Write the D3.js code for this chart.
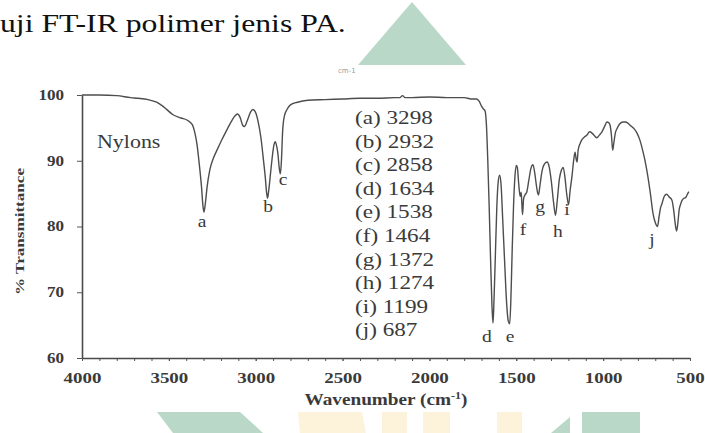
<!DOCTYPE html>
<html>
<head>
<meta charset="utf-8">
<script src="https://cdn.jsdelivr.net/npm/d3@7"></script>
<style>
  html, body { margin: 0; padding: 0; background: #fff; }
  svg { display: block; }
</style>
</head>
<body>
<svg id="chart" width="705" height="433"></svg>
<script>
// FT-IR spectrum of a nylon (polyamide) sample
const wavenumbers = [
  4000, 3900, 3800, 3720, 3680, 3620, 3570, 3530, 3476, 3430, 3396, 3365, 3350, 3338, 3325,
  3312, 3304, 3298, 3290, 3280, 3265, 3245, 3225, 3195, 3166, 3140, 3120, 3105, 3090, 3075,
  3065, 3050, 3030, 3016, 3000, 2985, 2970, 2955, 2945, 2938, 2932, 2925, 2915, 2905, 2895,
  2888, 2880, 2872, 2865, 2858, 2852, 2845, 2835, 2820, 2800, 2760, 2700, 2600, 2500, 2400,
  2300, 2200, 2170, 2155, 2140, 2100, 2000, 1900, 1800, 1760, 1730, 1715, 1700, 1690, 1680,
  1672, 1664, 1656, 1648, 1640, 1634, 1628, 1620, 1612, 1604, 1596, 1588, 1578, 1566, 1556,
  1546, 1538, 1531, 1524, 1516, 1508, 1500, 1494, 1486, 1478, 1472, 1468, 1464, 1458, 1450,
  1440, 1428, 1416, 1404, 1394, 1384, 1376, 1372, 1364, 1352, 1340, 1323, 1310, 1298, 1286,
  1274, 1264, 1252, 1240, 1230, 1220, 1210, 1199, 1190, 1180, 1170, 1162, 1155, 1150, 1144,
  1133, 1122, 1108, 1093, 1078, 1064, 1050, 1036, 1022, 1007, 992, 978, 968, 960, 952,
  945, 938, 930, 920, 905, 886, 870, 857, 840, 820, 805, 788, 770, 755, 742,
  728, 713, 700, 687, 678, 670, 661, 648, 635, 620, 604, 594, 585, 577, 570,
  562, 555, 545, 535, 525, 515, 507
];
const transmittance = [
  100.0, 100.0, 99.9, 99.6, 99.5, 99.3, 98.9, 98.2, 97.0, 96.5, 96.2, 95.5, 94.2, 92.5, 89.5,
  86.0, 83.2, 82.2, 83.5, 86.0, 88.5, 90.3, 91.5, 93.2, 94.7, 96.0, 96.8, 97.1, 96.6, 95.4,
  95.2, 96.0, 97.4, 97.8, 97.3, 95.8, 93.5, 90.0, 87.5, 85.3, 84.3, 85.5, 88.0, 90.5, 92.4,
  92.9, 92.3, 91.0, 89.0, 88.0, 90.0, 94.5, 96.8, 97.8, 98.5, 98.9, 99.2, 99.3, 99.4, 99.5,
  99.5, 99.6, 99.6, 99.9, 99.6, 99.6, 99.7, 99.6, 99.6, 99.4, 99.4, 99.1, 98.3, 97.9, 97.6,
  95.5, 90.0, 83.0, 75.0, 68.0, 65.3, 69.0, 76.0, 83.0, 86.8, 87.8, 86.5, 81.0, 74.0, 68.5,
  65.6, 65.2, 69.0, 76.0, 83.0, 87.5, 89.3, 89.0, 86.5, 84.6, 85.2, 83.5, 81.8, 84.2, 84.8,
  85.2, 87.0, 88.8, 89.4, 88.2, 86.2, 85.0, 84.8, 86.2, 88.4, 89.4, 89.8, 89.0, 86.8, 83.8,
  81.7, 84.0, 87.2, 88.6, 89.0, 87.5, 85.0, 83.3, 85.5, 87.5, 90.0, 91.3, 90.2, 89.8, 91.6,
  92.6, 93.2, 93.6, 93.9, 94.4, 94.2, 93.8, 93.5, 93.9, 94.4, 95.2, 95.9, 95.8, 95.4, 93.8,
  91.6, 92.8, 94.2, 94.9, 95.6, 95.9, 95.9, 95.7, 95.3, 94.8, 94.2, 93.1, 91.3, 89.5, 87.5,
  85.0, 82.0, 80.6, 80.0, 81.5, 82.8, 83.5, 84.6, 84.9, 84.5, 84.0, 82.5, 80.4, 79.3, 80.5,
  82.6, 83.3, 84.0, 84.3, 84.4, 84.9, 85.3
];

// Assigned absorption bands
const peakLetters = ["a", "b", "c", "d", "e", "f", "g", "h", "i", "j"];
const peakWavenumbers = [3298, 2932, 2858, 1634, 1538, 1464, 1372, 1274, 1199, 687];
// where each band letter sits, in data units (wavenumber, %T)
const letterWavenumbers = [3309, 2929, 2843, 1669, 1536, 1461, 1363, 1260, 1208, 719];
const letterTransmittance = [80.7, 83.0, 87.1, 63.2, 63.2, 79.5, 83.0, 79.2, 82.5, 77.9];

// Axis ticks
const xTickLabels = [4000, 3500, 3000, 2500, 2000, 1500, 1000, 500];
const xMinorTicks = d3.range(4000, 499, -100);
const yTickLabels = [60, 70, 80, 90, 100];

const SERIF = "Liberation Serif, Times New Roman, serif";
const SX = 1.22; // horizontal text stretch of the figure
const INK = "#3a3a3a";

const svg = d3.select("#chart");

// --- page background decorations ---------------------------------------
const deco = svg.append("g");
const green = "#b9d8c8", cream = "#fcf3da";
deco.append("polygon").attr("points", "352,72 412,2 472,72").attr("fill", green);
deco.append("polygon").attr("points", "157,412 240,412 263,433 173,433").attr("fill", green);
deco.append("polygon").attr("points", "298,412 362,412 366,433 300,433").attr("fill", cream);
deco.append("rect").attr("x", 382).attr("y", 412).attr("width", 25).attr("height", 21).attr("fill", cream);
deco.append("rect").attr("x", 423).attr("y", 412).attr("width", 27).attr("height", 21).attr("fill", cream);
deco.append("rect").attr("x", 497).attr("y", 412).attr("width", 25).attr("height", 21).attr("fill", cream);
deco.append("polygon").attr("points", "570,417 570,433 551,433").attr("fill", green);
deco.append("rect").attr("x", 582).attr("y", 412).attr("width", 58).attr("height", 21).attr("fill", green);

// page text above the figure
svg.append("text")
  .attr("transform", `translate(0,32) scale(${SX},1)`)
  .style("font-family", SERIF).style("font-size", "26px").attr("fill", "#111")
  .text("uji FT-IR polimer jenis PA.");

// figure panel
svg.append("rect").attr("x", 0).attr("y", 65).attr("width", 705).attr("height", 346).attr("fill", "#fff");

svg.append("text")
  .attr("x", 338).attr("y", 73)
  .style("font-family", "DejaVu Sans, sans-serif").style("font-size", "7px").attr("fill", "#9a9a9a")
  .text("cm-1");

// --- scales --------------------------------------------------------------
const x = d3.scaleLinear().domain([4000, 500]).range([82, 690]);
const y = d3.scaleLinear().domain([60, 100]).range([358, 95]);

// --- axes ----------------------------------------------------------------
const xMinor = svg.append("g")
  .attr("transform", `translate(0,${y(60)})`)
  .call(d3.axisBottom(x).tickValues(xMinorTicks).tickSize(3).tickFormat(""));
xMinor.select(".domain").remove();
xMinor.selectAll("line").attr("stroke", "#555").attr("stroke-width", 1);

const xAxis = svg.append("g")
  .attr("transform", `translate(0,${y(60)})`)
  .call(d3.axisBottom(x).tickValues(xTickLabels).tickSize(3).tickSizeOuter(0).tickPadding(11).tickFormat(d3.format("d")));
xAxis.select(".domain").attr("stroke", "#4a4a4a").attr("stroke-width", 1.6);
xAxis.selectAll("line").attr("stroke", "#555");
xAxis.selectAll("text")
  .style("font-family", SERIF).style("font-size", "15.5px").style("font-weight", "bold").attr("fill", INK)
  .attr("transform", `scale(${SX},1)`);

const yAxis = svg.append("g")
  .attr("transform", `translate(${x(4000)},0)`)
  .call(d3.axisLeft(y).tickValues(yTickLabels).tickSize(5).tickSizeOuter(0).tickFormat(d3.format("d")));
yAxis.select(".domain").attr("stroke", "#4a4a4a").attr("stroke-width", 1.6);
yAxis.selectAll("line").attr("stroke", "#555");
yAxis.selectAll("text")
  .style("font-family", SERIF).style("font-size", "14px").style("font-weight", "bold").attr("fill", INK)
  .attr("x", -18 / SX)
  .attr("transform", `scale(${SX},1)`);

// axis titles
const xTitle = svg.append("text")
  .attr("x", (x(4000) + x(500)) / 2).attr("y", 405)
  .attr("text-anchor", "middle")
  .style("font-family", SERIF).style("font-size", "16px").style("font-weight", "bold").attr("fill", INK)
  .attr("textLength", 163).attr("lengthAdjust", "spacingAndGlyphs");
xTitle.append("tspan").text("Wavenumber (cm");
xTitle.append("tspan").style("font-size", "10px").attr("dy", -6).text("-1");
xTitle.append("tspan").attr("dy", 6).text(")");

svg.append("text")
  .attr("transform", `translate(24,${(y(60) + y(100)) / 2 + 5}) rotate(-90)`)
  .attr("text-anchor", "middle")
  .style("font-family", SERIF).style("font-size", "13px").style("font-weight", "bold").attr("fill", INK)
  .attr("textLength", 127).attr("lengthAdjust", "spacingAndGlyphs")
  .text("% Transmittance");

// --- spectrum ------------------------------------------------------------
const spectrum = wavenumbers.map((w, i) => ({ w, t: transmittance[i] }));
svg.append("path")
  .datum(spectrum)
  .attr("fill", "none")
  .attr("stroke", "#4d4d4d")
  .attr("stroke-width", 1.4)
  .attr("stroke-linejoin", "round")
  .attr("d", d3.line().x(d => x(d.w)).y(d => y(d.t)).curve(d3.curveMonotoneX));

// sample name
svg.append("text")
  .attr("transform", `translate(97,148) scale(${SX},1)`)
  .style("font-family", SERIF).style("font-size", "18px").attr("fill", INK)
  .text("Nylons");

// band letters under the minima
svg.append("g").selectAll("text")
  .data(peakLetters)
  .join("text")
  .attr("transform", (d, i) => `translate(${x(letterWavenumbers[i])},${y(letterTransmittance[i])}) scale(${SX},1)`)
  .attr("dy", "0.32em")
  .attr("text-anchor", "middle")
  .style("font-family", SERIF).style("font-size", "16px").attr("fill", INK)
  .text(d => d);

// band list
svg.append("g").selectAll("text")
  .data(peakLetters)
  .join("text")
  .attr("transform", (d, i) => `translate(355,${124 + i * 23.6}) scale(${SX},1)`)
  .style("font-family", SERIF).style("font-size", "19px").attr("fill", INK)
  .text((d, i) => `(${d}) ${peakWavenumbers[i]}`);
</script>
</body>
</html>
